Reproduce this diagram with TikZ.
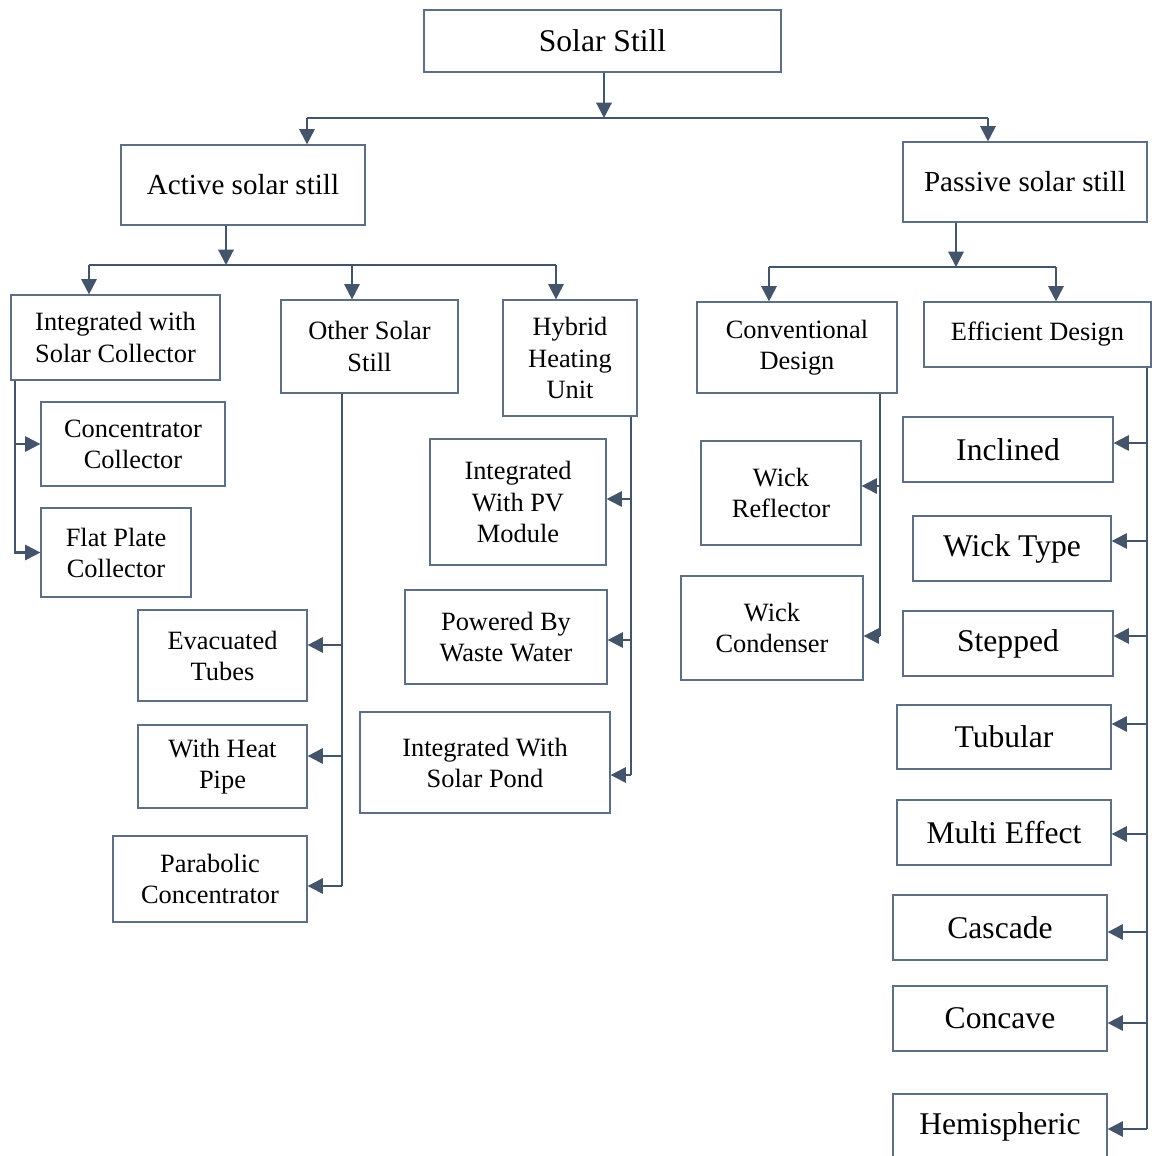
\documentclass[tikz,border=0pt]{standalone}
\usepackage{fontspec}
\setmainfont{Liberation Serif}
\usetikzlibrary{arrows.meta}
\definecolor{connc}{HTML}{44546A}
\definecolor{boxc}{HTML}{5E6E84}
\begin{document}
\begin{tikzpicture}[x=0.75pt,y=-0.75pt,
  bx/.style 2 args={draw=boxc, line width=0.9pt, minimum width=#1*0.75pt, minimum height=#2*0.75pt, inner sep=0pt, align=center, text=black},
  ln/.style={draw=connc, line width=1.6pt},
  arr/.style={ln, -{Triangle[length=11.5pt,width=11.5pt]}},
  fs/.style={font=\fontsize{19.8}{23.3}\selectfont},
  fm/.style={font=\fontsize{21.8}{25}\selectfont},
  fl/.style={font=\fontsize{23.7}{27}\selectfont}]
\useasboundingbox (0,0) rectangle (1152,1156);
\clip (0,0) rectangle (1152,1156);
\fill[white] (0,0) rectangle (1152,1156);

% level 0/1
\node[bx={357}{62}, fl] (solar) at (602.5,41) {Solar Still};
\node[bx={244}{80}, fm] (active) at (243,185) {Active solar still};
\node[bx={244}{80}, fm] (passive) at (1025,182) {Passive solar still};

% level 2
\node[bx={209}{85}, fs] (isc) at (115.5,337.5) {Integrated with\\Solar Collector};
\node[bx={177}{93}, fs] (other) at (369.5,346.5) {Other Solar\\Still};
\node[bx={134}{116}, fs] (hyb) at (570,358) {Hybrid\\Heating\\Unit};
\node[bx={200}{91}, fs] (conv) at (797,347.5) {Conventional\\Design};
\node[bx={227}{65}, fs] (eff) at (1037.5,334.5) {Efficient Design};

% under integrated with solar collector
\node[bx={184}{84}, fs] (cc) at (133,444) {Concentrator\\Collector};
\node[bx={150}{89}, fs] (fpc) at (116,552.5) {Flat Plate\\Collector};

% under other solar still
\node[bx={169}{91}, fs] (evac) at (222.5,655.5) {Evacuated\\Tubes};
\node[bx={169}{83}, fs] (heat) at (222.5,766.5) {With Heat\\Pipe};
\node[bx={194}{86}, fs] (para) at (210,879) {Parabolic\\Concentrator};

% under hybrid
\node[bx={176}{126}, fs] (pv) at (518,502) {Integrated\\With PV\\Module};
\node[bx={202}{94}, fs] (waste) at (506,637) {Powered By\\Waste Water};
\node[bx={250}{101}, fs] (pond) at (485,762.5) {Integrated With\\Solar Pond};

% under conventional
\node[bx={160}{104}, fs] (wr) at (781,493) {Wick\\Reflector};
\node[bx={182}{104}, fs] (wc) at (772,628) {Wick\\Condenser};

% under efficient
\node[bx={210}{65}, fl] (incl) at (1008,449.5) {Inclined};
\node[bx={198}{65}, fl] (wick) at (1012,548.5) {Wick Type};
\node[bx={210}{65}, fl] (step) at (1008,643.5) {Stepped};
\node[bx={214}{64}, fl] (tub) at (1004,737) {Tubular};
\node[bx={214}{65}, fl] (multi) at (1004,832.5) {Multi Effect};
\node[bx={214}{65}, fl] (casc) at (1000,927.5) {Cascade};
\node[bx={214}{65}, fl] (conc) at (1000,1018.5) {Concave};
\node[bx={214}{66}, fl] (hemi) at (1000,1127) {Hemispheric};

% top connectors
\coordinate (t0) at (604,118);
\coordinate (tl) at (307,118);
\coordinate (tr) at (988,118);
\draw[arr] (solar.south -| t0) -- (t0);
\draw[ln] (tl) -- (tr);
\draw[arr] (tl) -- (tl |- active.north);
\draw[arr] (tr) -- (tr |- passive.north);

% active connectors
\coordinate (a0) at (226,265);
\coordinate (al) at (89,265);
\coordinate (am) at (352,265);
\coordinate (ar) at (556,265);
\draw[arr] (active.south -| a0) -- (a0);
\draw[ln] (al) -- (ar);
\draw[arr] (al) -- (al |- isc.north);
\draw[arr] (am) -- (am |- other.north);
\draw[arr] (ar) -- (ar |- hyb.north);

% passive connectors
\coordinate (p0) at (956,267);
\coordinate (pl) at (769,267);
\coordinate (pr) at (1056,267);
\draw[arr] (passive.south -| p0) -- (p0);
\draw[ln] (pl) -- (pr);
\draw[arr] (pl) -- (pl |- conv.north);
\draw[arr] (pr) -- (pr |- eff.north);

% integrated with solar collector branch
\coordinate (v1) at (15,0);
\draw[arr] (isc.south -| v1) |- (cc.west);
\draw[arr] (isc.south -| v1) |- (fpc.west);

% other solar still branch
\coordinate (o1) at (342,645);
\coordinate (o2) at (342,756);
\coordinate (o3) at (342,886);
\draw[ln] (other.south -| o1) -- (o3);
\draw[arr] (o1) -- (evac.east |- o1);
\draw[arr] (o2) -- (heat.east |- o2);
\draw[arr] (o3) -- (para.east |- o3);

% hybrid branch
\coordinate (h1) at (631,499);
\coordinate (h2) at (631,640);
\coordinate (h3) at (631,775);
\draw[ln] (hyb.south -| h1) -- (h3);
\draw[arr] (h1) -- (pv.east |- h1);
\draw[arr] (h2) -- (waste.east |- h2);
\draw[arr] (h3) -- (pond.east |- h3);

% conventional branch
\coordinate (c1) at (880,486);
\coordinate (c2) at (880,636);
\draw[ln] (conv.south -| c1) -- (c2);
\draw[arr] (c1) -- (wr.east |- c1);
\draw[arr] (c2) -- (wc.east |- c2);

% efficient branch
\coordinate (e1) at (1147,443);
\coordinate (e2) at (1147,541);
\coordinate (e3) at (1147,636);
\coordinate (e4) at (1147,724);
\coordinate (e5) at (1147,834);
\coordinate (e6) at (1147,932);
\coordinate (e7) at (1147,1023);
\coordinate (e8) at (1147,1129);
\draw[ln] (eff.south -| e1) -- (e8);
\draw[arr] (e1) -- (incl.east |- e1);
\draw[arr] (e2) -- (wick.east |- e2);
\draw[arr] (e3) -- (step.east |- e3);
\draw[arr] (e4) -- (tub.east |- e4);
\draw[arr] (e5) -- (multi.east |- e5);
\draw[arr] (e6) -- (casc.east |- e6);
\draw[arr] (e7) -- (conc.east |- e7);
\draw[arr] (e8) -- (hemi.east |- e8);
\end{tikzpicture}
\end{document}
